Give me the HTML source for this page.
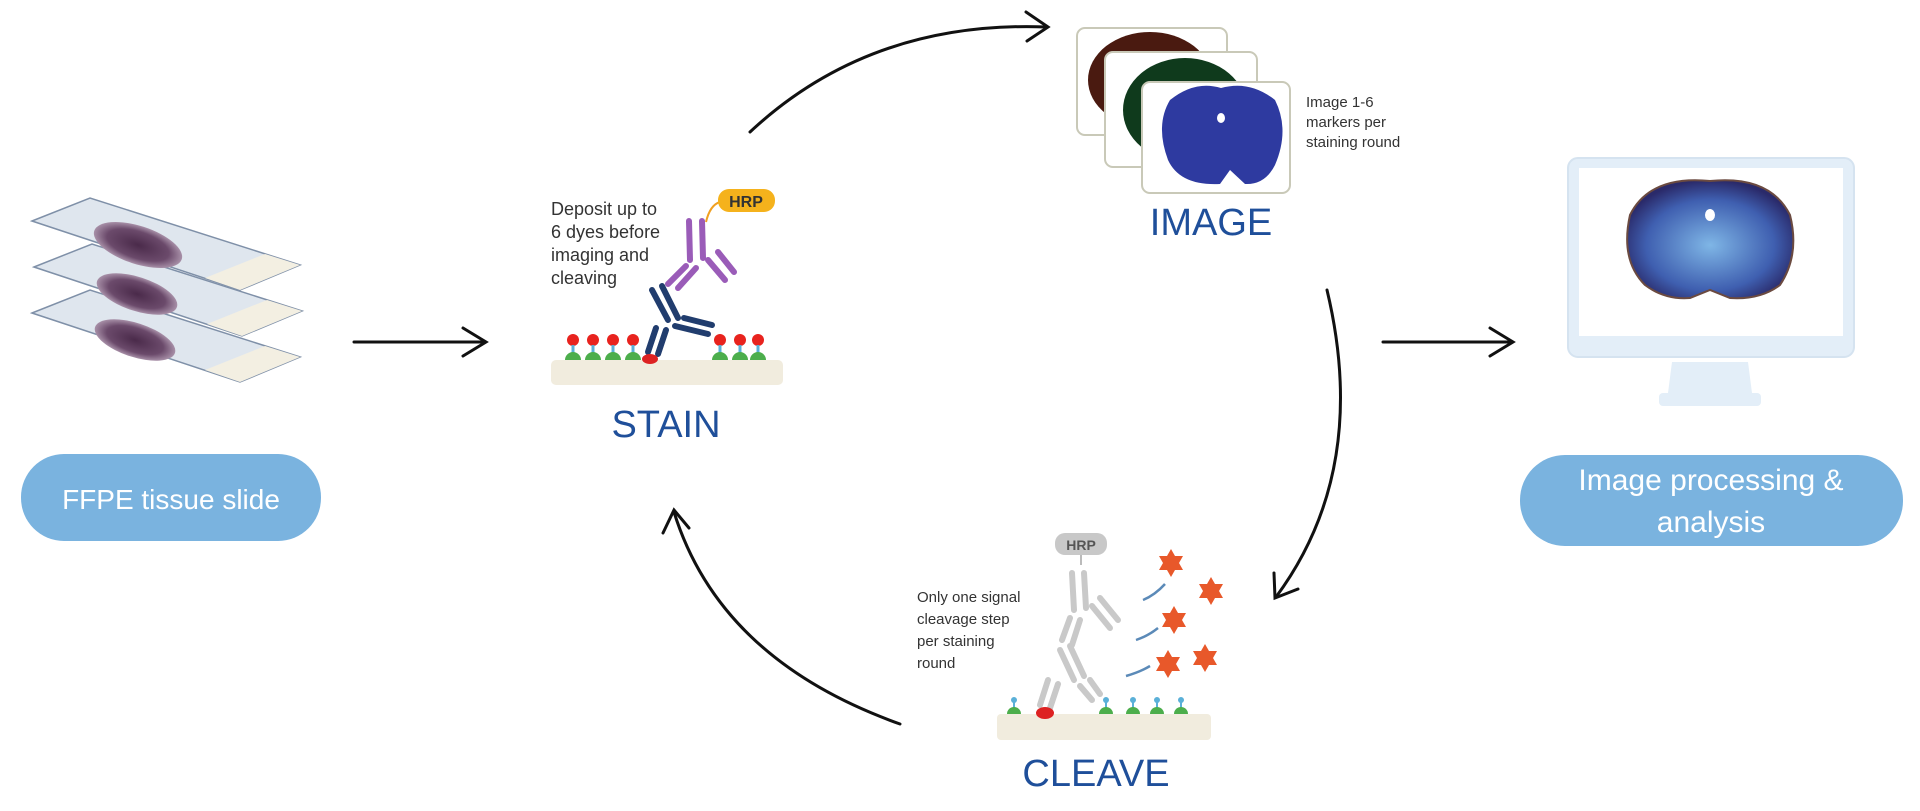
<!DOCTYPE html>
<html><head><meta charset="utf-8"><style>
html,body{margin:0;padding:0;background:#fff;}
body{width:1920px;height:811px;overflow:hidden;position:relative;font-family:"Liberation Sans",sans-serif;}
svg{position:absolute;left:0;top:0;}
</style></head><body>
<svg width="1920" height="811" viewBox="0 0 1920 811" xmlns="http://www.w3.org/2000/svg">
<defs>
<radialGradient id="tis" cx="50%" cy="50%" r="50%"><stop offset="0" stop-color="#4a2a4a"/><stop offset="0.7" stop-color="#6b4a6b"/><stop offset="1" stop-color="#a890a8"/></radialGradient>
<radialGradient id="bb" cx="50%" cy="55%" r="55%"><stop offset="0" stop-color="#7fb6e6"/><stop offset="0.7" stop-color="#3f5fb0"/><stop offset="1" stop-color="#2a2a6a"/></radialGradient>
</defs>
<!-- Slides -->
<g>
 <g transform="translate(0,0)">
  <polygon points="32,313 90,290 300,357 240,382" fill="#dfe6ee" stroke="#7f90a8" stroke-width="1.5"/>
  <polygon points="205,370 265,346 300,357 240,382" fill="#f3efe2"/>
  <ellipse cx="135" cy="340" rx="42" ry="17" fill="url(#tis)" transform="rotate(18 135 340)"/>
 </g>
 <g transform="translate(2,-46)">
  <polygon points="32,313 90,290 300,357 240,382" fill="#dfe6ee" stroke="#7f90a8" stroke-width="1.5"/>
  <polygon points="205,370 265,346 300,357 240,382" fill="#f3efe2"/>
  <ellipse cx="135" cy="340" rx="42" ry="17" fill="url(#tis)" transform="rotate(18 135 340)"/>
 </g>
 <g transform="translate(0,-92)">
  <polygon points="32,313 90,290 300,357 240,382" fill="#dfe6ee" stroke="#7f90a8" stroke-width="1.5"/>
  <polygon points="205,370 265,346 300,357 240,382" fill="#f3efe2"/>
  <ellipse cx="138" cy="337" rx="46" ry="19" fill="url(#tis)" transform="rotate(18 138 337)"/>
 </g>
</g>
<!-- FFPE pill -->
<rect x="21" y="454" width="300" height="87" rx="43" fill="#7ab3df"/>
<text x="171" y="509" text-anchor="middle" font-size="28" fill="#fff">FFPE tissue slide</text>
<!-- Arrows straight -->
<g stroke="#111" stroke-width="3" fill="none" stroke-linecap="round">
 <line x1="354" y1="342" x2="485" y2="342"/><polyline points="463,328 486,342 463,356"/>
 <line x1="1383" y1="342" x2="1512" y2="342"/><polyline points="1490,328 1513,342 1490,356"/>
 <path d="M750,132 Q870,20 1047,27"/><polyline points="1026,12 1048,27 1027,41"/>
 <path d="M1327,290 Q1370,470 1276,597"/><polyline points="1274,573 1275,598 1298,589"/>
 <path d="M900,724 Q720,660 674,512"/><polyline points="663,533 674,510 689,528"/>
</g>
<!-- STAIN -->
<text x="551" y="215" font-size="18" fill="#333">Deposit up to</text>
<text x="551" y="238" font-size="18" fill="#333">6 dyes before</text>
<text x="551" y="261" font-size="18" fill="#333">imaging and</text>
<text x="551" y="284" font-size="18" fill="#333">cleaving</text>
<path d="M706,222 Q710,205 720,202" stroke="#f0a020" stroke-width="2" fill="none"/>
<rect x="718" y="189" width="57" height="23" rx="11" fill="#f5b21c"/>
<text x="746" y="207" text-anchor="middle" font-size="16" font-weight="bold" fill="#333">HRP</text>
<rect x="551" y="360" width="232" height="25" rx="5" fill="#f1ecde"/>
<g stroke-linecap="round" fill="none">
 <g stroke="#9a5cb8" stroke-width="6">
  <line x1="689" y1="221" x2="690" y2="260"/><line x1="702" y1="221" x2="703" y2="258"/>
  <line x1="686" y1="266" x2="668" y2="284"/><line x1="696" y1="268" x2="678" y2="288"/>
  <line x1="708" y1="260" x2="725" y2="280"/><line x1="718" y1="252" x2="734" y2="272"/>
 </g>
 <g stroke="#213d6e" stroke-width="6">
  <line x1="652" y1="290" x2="668" y2="320"/><line x1="662" y1="286" x2="678" y2="318"/>
  <line x1="675" y1="326" x2="708" y2="334"/><line x1="684" y1="318" x2="712" y2="325"/>
  <line x1="656" y1="328" x2="648" y2="352"/><line x1="666" y1="330" x2="658" y2="354"/>
 </g>
</g>
<ellipse cx="650" cy="359" rx="8" ry="5" fill="#d22"/>
<g id="rec"><circle cx="0" cy="-20" r="6" fill="#e8231e"/><rect x="-1.5" y="-15" width="3" height="8" fill="#5ab0d8"/><path d="M-8,0 A8,8 0 0 1 8,0 Z" fill="#4cae4c"/></g>
<use href="#rec" transform="translate(573,360)"/><use href="#rec" transform="translate(593,360)"/><use href="#rec" transform="translate(613,360)"/><use href="#rec" transform="translate(633,360)"/>
<use href="#rec" transform="translate(720,360)"/><use href="#rec" transform="translate(740,360)"/><use href="#rec" transform="translate(758,360)"/>
<text x="666" y="437" text-anchor="middle" font-size="38" fill="#1f4f9a">STAIN</text>
<!-- IMAGE cards -->
<rect x="1077" y="28" width="150" height="107" rx="8" fill="#fff" stroke="#c9c9b8" stroke-width="2"/>
<ellipse cx="1150" cy="80" rx="62" ry="48" fill="#4a1a10"/>
<rect x="1105" y="52" width="152" height="115" rx="8" fill="#fff" stroke="#c9c9b8" stroke-width="2"/>
<ellipse cx="1185" cy="110" rx="62" ry="52" fill="#0f3a1c"/>
<rect x="1142" y="82" width="148" height="111" rx="8" fill="#fff" stroke="#c9c9b8" stroke-width="2"/>
<path d="M1221,88 Q1250,80 1275,100 Q1290,130 1275,165 Q1265,185 1245,184 L1230,170 L1220,184 Q1180,186 1168,160 Q1155,125 1170,100 Q1195,80 1221,88 Z" fill="#2e3aa0"/>
<ellipse cx="1221" cy="118" rx="4" ry="5" fill="#fff"/>
<text x="1306" y="107" font-size="15" fill="#333">Image 1-6</text>
<text x="1306" y="127" font-size="15" fill="#333">markers per</text>
<text x="1306" y="147" font-size="15" fill="#333">staining round</text>
<text x="1211" y="235" text-anchor="middle" font-size="38" fill="#1f4f9a">IMAGE</text>
<!-- Monitor -->
<rect x="1568" y="158" width="286" height="199" rx="10" fill="#e3eef8" stroke="#d5e3f0" stroke-width="2"/>
<rect x="1579" y="168" width="264" height="168" fill="#fff"/>
<path d="M1672,362 L1748,362 L1752,393 L1668,393 Z" fill="#e3eef8"/>
<rect x="1659" y="393" width="102" height="13" rx="4" fill="#e3eef8"/>
<path d="M1710,181 Q1650,175 1630,215 Q1620,260 1645,285 Q1665,300 1690,298 L1710,290 L1730,298 Q1760,300 1780,285 Q1800,255 1790,215 Q1770,175 1710,181 Z" fill="url(#bb)" stroke="#6b4a40" stroke-width="2"/>
<ellipse cx="1710" cy="215" rx="5" ry="6" fill="#fff"/>
<!-- pill 2 -->
<rect x="1520" y="455" width="383" height="91" rx="45" fill="#7ab3df"/>
<text x="1711" y="490" text-anchor="middle" font-size="30" fill="#fff">Image processing &amp;</text>
<text x="1711" y="532" text-anchor="middle" font-size="30" fill="#fff">analysis</text>
<!-- CLEAVE -->
<text x="917" y="602" font-size="15" fill="#333">Only one signal</text>
<text x="917" y="624" font-size="15" fill="#333">cleavage step</text>
<text x="917" y="646" font-size="15" fill="#333">per staining</text>
<text x="917" y="668" font-size="15" fill="#333">round</text>
<rect x="1055" y="533" width="52" height="22" rx="10" fill="#c8c8c8"/>
<text x="1081" y="550" text-anchor="middle" font-size="14" font-weight="bold" fill="#555">HRP</text>
<line x1="1081" y1="555" x2="1081" y2="565" stroke="#bbb" stroke-width="2"/>
<g stroke="#c9c9c9" stroke-width="6" stroke-linecap="round">
 <line x1="1072" y1="573" x2="1074" y2="610"/><line x1="1084" y1="573" x2="1086" y2="608"/>
 <line x1="1070" y1="618" x2="1062" y2="640"/><line x1="1080" y1="620" x2="1072" y2="645"/>
 <line x1="1092" y1="606" x2="1110" y2="628"/><line x1="1100" y1="598" x2="1118" y2="620"/>
 <line x1="1060" y1="650" x2="1074" y2="680"/><line x1="1070" y1="646" x2="1084" y2="676"/>
 <line x1="1080" y1="686" x2="1092" y2="700"/><line x1="1090" y1="680" x2="1100" y2="694"/>
 <line x1="1048" y1="680" x2="1040" y2="705"/><line x1="1058" y1="684" x2="1050" y2="708"/>
</g>
<rect x="997" y="714" width="214" height="26" rx="4" fill="#f1ecde"/>
<ellipse cx="1045" cy="713" rx="9" ry="6" fill="#d22"/>
<g id="rec2"><circle cx="0" cy="-14" r="3" fill="#5ab0d8"/><rect x="-1" y="-12" width="2" height="6" fill="#5ab0d8"/><path d="M-7,0 A7,7 0 0 1 7,0 Z" fill="#4cae4c"/></g>
<use href="#rec2" transform="translate(1014,714)"/>
<use href="#rec2" transform="translate(1106,714)"/><use href="#rec2" transform="translate(1133,714)"/><use href="#rec2" transform="translate(1157,714)"/><use href="#rec2" transform="translate(1181,714)"/>
<g fill="#e8582a">
 <polygon points="1171,549 1175,556 1183,556 1179,563 1183,570 1175,570 1171,577 1167,570 1159,570 1163,563 1159,556 1167,556"/>
 <polygon points="1211,577 1215,584 1223,584 1219,591 1223,598 1215,598 1211,605 1207,598 1199,598 1203,591 1199,584 1207,584"/>
 <polygon points="1174,606 1178,613 1186,613 1182,620 1186,627 1178,627 1174,634 1170,627 1162,627 1166,620 1162,613 1170,613"/>
 <polygon points="1168,650 1172,657 1180,657 1176,664 1180,671 1172,671 1168,678 1164,671 1156,671 1160,664 1156,657 1164,657"/>
 <polygon points="1205,644 1209,651 1217,651 1213,658 1217,665 1209,665 1205,672 1201,665 1193,665 1197,658 1193,651 1201,651"/>
</g>
<g stroke="#5b8ab8" stroke-width="2.5" fill="none">
 <path d="M1143,600 Q1155,595 1165,584"/><path d="M1136,640 Q1148,636 1158,628"/><path d="M1126,676 Q1140,672 1150,666"/>
</g>
<text x="1096" y="786" text-anchor="middle" font-size="38" fill="#1f4f9a">CLEAVE</text>
</svg>
</body></html>
